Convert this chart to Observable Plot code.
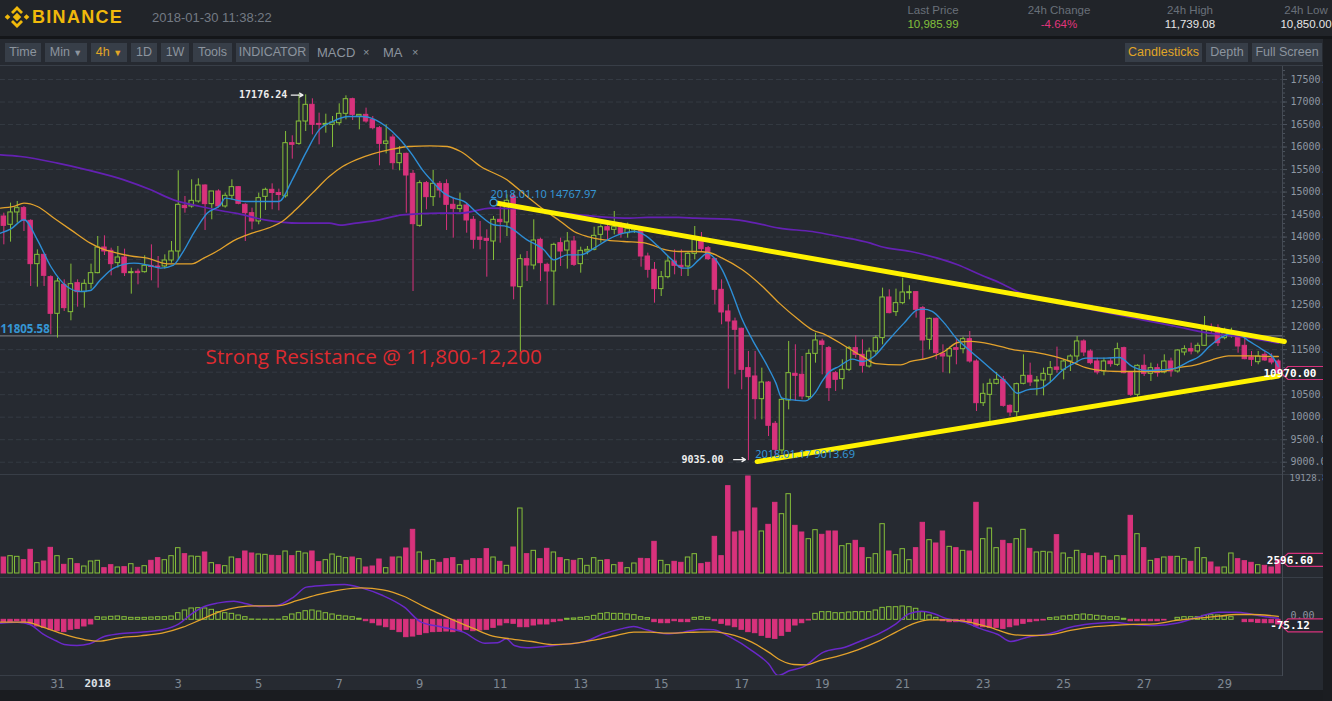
<!DOCTYPE html>
<html><head><meta charset="utf-8">
<script src="https://cdn.jsdelivr.net/npm/d3@7"></script>
<script src="https://cdn.jsdelivr.net/npm/@observablehq/plot@0.6"></script>
<style>
html,body{margin:0;padding:0;}
body{width:1332px;height:701px;overflow:hidden;background:#262a31;position:relative;font-family:"Liberation Sans",Arial,sans-serif;}
.abs{position:absolute}
.stat{top:3px;text-align:center;font-size:11.5px;line-height:14px}
.stat .l{color:#697079}
.btn{top:43px;height:19px;line-height:19px;background:#373e48;color:#8c949e;font-size:12.5px;text-align:center}
.plain{top:43px;height:19px;line-height:19px;color:#8c949e;font-size:13px}
.hline{left:0;width:1323px;height:1px;background:#383e47}
</style></head><body>
<div class="abs" style="left:0;top:0;width:1332px;height:36px;background:#212429"></div>
<div class="abs" style="left:0;top:36px;width:1332px;height:3px;background:#141619"></div>
<svg class="abs" style="left:4px;top:4px" width="26" height="26" viewBox="0 0 26 26">
 <g fill="#f0b90b">
  <rect x="10" y="10" width="6" height="6" transform="rotate(45 13 13)"/>
  <rect x="1.5" y="11" width="4" height="4" transform="rotate(45 3.5 13)"/>
  <rect x="20.5" y="11" width="4" height="4" transform="rotate(45 22.5 13)"/>
  <path d="M13 2 L19 8 L17 10 L13 6 L9 10 L7 8 Z"/>
  <path d="M13 24 L19 18 L17 16 L13 20 L9 16 L7 18 Z"/>
 </g></svg>
<div class="abs" style="left:32px;top:7px;font-weight:bold;font-size:18px;letter-spacing:1.3px;color:#f0b90b">BINANCE</div>
<div class="abs" style="left:152px;top:10px;font-size:13px;color:#737a84">2018-01-30 11:38:22</div>
<div class="abs stat" style="left:898px;width:70px"><div class="l">Last Price</div><div style="color:#84c13c">10,985.99</div></div>
<div class="abs stat" style="left:1019px;width:80px"><div class="l">24h Change</div><div style="color:#e0357d">-4.64%</div></div>
<div class="abs stat" style="left:1155px;width:70px"><div class="l">24h High</div><div style="color:#e6e6e6">11,739.08</div></div>
<div class="abs stat" style="left:1271px;width:70px"><div class="l">24h Low</div><div style="color:#e6e6e6">10,850.00</div></div>

<div class="abs btn" style="left:5px;width:36px">Time</div>
<div class="abs btn" style="left:45px;width:42px">Min <span style="font-size:9px">▼</span></div>
<div class="abs btn" style="left:91px;width:36px;color:#e0a526">4h <span style="font-size:9px">▼</span></div>
<div class="abs btn" style="left:131px;width:26px">1D</div>
<div class="abs btn" style="left:161px;width:28px">1W</div>
<div class="abs btn" style="left:193px;width:39px">Tools</div>
<div class="abs btn" style="left:236px;width:73px">INDICATOR</div>
<div class="abs plain" style="left:317px">MACD</div>
<div class="abs plain" style="left:363px;font-size:11px">×</div>
<div class="abs plain" style="left:383px">MA</div>
<div class="abs plain" style="left:412px;font-size:11px">×</div>
<div class="abs btn" style="left:1125px;width:77px;color:#e0a526">Candlesticks</div>
<div class="abs btn" style="left:1206px;width:42px">Depth</div>
<div class="abs btn" style="left:1252px;width:70px">Full Screen</div>

<div class="abs hline" style="top:65px"></div>
<div id="main" class="abs" style="left:0;top:66px"></div>
<div class="abs hline" style="top:474px"></div>
<div id="vol" class="abs" style="left:0;top:474px"></div>
<div class="abs hline" style="top:577px"></div>
<div id="macd" class="abs" style="left:0;top:577px"></div>
<div class="abs hline" style="top:675px;width:1282px"></div>
<div class="abs" style="left:0;top:690px;width:1332px;height:11px;background:#1a1c20"></div>
<div class="abs" style="left:1323px;top:39px;width:9px;height:662px;background:#1b1d21"></div>

<script>
// ---- 4h candles, 2017-12-29 16:00 to 2018-01-30 08:00 (index 0..190) ----
const open = [
14457,14273,14547,14643,14361,13399,13606,13110,
12296,12940,12333,12977,12777,12962,13199,13769,13695,13421,
13547,13199,13230,13221,13360,13345,13347,13480,13680,14695,
14680,14791,15146,14732,15013,14680,14917,15109,14717,14531,
14347,14894,15050,14980,14906,16086,16071,16567,16938,16515,
16493,16493,16530,16738,17063,16678,16715,16604,16419,16071,
16212,15642,15849,15405,14250,15198,14887,15183,15176,14717,
14621,14702,14384,13991,13961,13902,14384,14324,14902,12888,
13510,13369,13939,13384,13236,13865,13702,13902,13399,13680,
13717,14050,14220,14161,14198,14087,14150,14161,13569,13273,
12844,13110,13458,13362,13347,13628,13902,13754,13510,12829,
12348,12126,11963,11089,10904,10400,10770,9853,9260,10370,
10963,10941,10445,11407,11682,11533,10978,10845,11052,11533,
11385,11126,11459,11756,12659,12333,12533,12755,12777,12422,
11718,12185,11407,11348,11533,11511,11733,11237,10311,10496,
10741,10830,10252,10111,10741,10919,10793,10815,10941,11104,
11052,11237,11348,11682,11459,11237,11015,11237,11163,11533,
10993,10497,11141,10963,11089,10993,11237,11015,11437,11511,
11459,11585,11977,11977,11755,11830,11830,11585,11326,11222,
11385,11289,11237];
const high = [
14531,14754,14791,14680,14384,13717,13620,13140,
13088,13051,13399,13051,13051,13399,14013,14028,13754,13791,
13732,13310,13288,13584,13828,13569,13606,13902,15472,14902,
15272,15294,15161,15013,15050,14976,15272,15120,14740,14643,
14976,15087,15183,15065,16345,16250,17176.24,17160,17071,16753,
16730,16678,16960,17137,17085,16720,16864,16678,16456,16493,
16271,16012,15864,15479,15250,15235,15479,15235,15272,14865,
14976,14754,14457,14347,14161,14457,14680,14939,14976,13606,
13680,14384,13976,13421,13865,13976,14102,14013,13776,13791,
14220,14273,14310,14569,14325,14310,14250,14200,13643,13436,
13236,13569,13717,13717,13680,14235,14102,13791,13532,13051,
12496,12200,11978,11460,11460,11089,10793,9904,10422,11682,
11608,11348,11496,11866,11733,11571,11015,11274,11571,11807,
11718,11533,11807,12866,12829,12844,13088,12918,12792,12459,
12200,12200,11607,11556,11733,11778,11903,11274,10741,10845,
10993,10904,10274,10756,11385,11200,10904,11089,11237,11556,
11274,11385,11792,11718,11496,11311,11311,11311,11644,11556,
11015,11163,11385,11200,11178,11385,11311,11496,11585,11644,
11644,12237,12070,12052,11977,11977,11903,11755,11459,11459,
11459,11407,11274];
const low = [
13828,13888,14310,14124,12903,12888,12903,11830,
11756,12348,12141,12444,12422,12844,13184,13591,13140,13310,
13125,12733,12940,13199,13029,12866,13288,13421,13495,14531,
14643,14754,14147,14384,14643,14643,14828,14717,13902,14161,
14273,14591,14606,14583,14865,15731,16040,16345,16271,16049,
16308,15990,16471,16604,16589,16382,16530,16382,15583,15849,
15494,15472,14531,12792,14220,14606,14680,14865,14147,13976,
14547,14087,13732,13717,13110,13480,13865,14013,12607,11385,
13014,13273,13014,12496,12474,13347,13288,13347,13199,13606,
13695,13865,13939,14050,13976,13976,14080,13332,13088,12533,
12681,13073,13162,13125,13125,13495,13680,13480,12496,12052,
10623,10941,10608,9035,9941,9941,9571,9165,9165,10163,
10348,10385,10385,11200,10941,10348,10571,10608,11015,11311,
10978,11089,11385,11607,12296,12237,12496,12607,12200,11289,
11496,11274,10985,10963,11163,11407,11200,10126,10237,9904,
10719,10222,10015,10000,10719,10682,10474,10474,10756,10978,
10830,11015,11200,11348,11163,10941,10919,11111,11126,10963,
10459,10445,10904,10793,10889,10963,10889,10978,11363,11385,
11407,11570,11860,11570,11718,11755,11422,11274,11126,11163,
11237,11163,10941];
const close = [
14250,14547,14643,14361,13399,13606,13140,12296,
13014,12422,12955,12777,12962,13199,13769,13680,13399,13547,
13199,13221,13200,13362,13335,13330,13480,13680,14717,14643,
14806,15146,14732,15013,14680,14917,15109,14739,14531,14347,
14865,15050,14980,14935,16086,16050,16567,16938,16493,16493,
16515,16545,16738,17063,16715,16715,16567,16419,16071,16123,
15642,15849,15368,14287,15198,14887,15183,15035,14717,14628,
14695,14369,13939,13939,13917,14384,14332,14806,12903,13510,
13369,13924,13421,13236,13828,13680,13902,13384,13695,13717,
14028,14220,14147,14220,14073,14176,14180,13569,13273,12844,
13110,13458,13362,13325,13628,13939,13732,13510,12829,12326,
12126,11941,11052,10889,10400,10770,9809,9275,10385,10978,
10919,10459,11407,11704,11607,10645,10830,11052,11533,11385,
11141,11459,11755,12659,12311,12533,12770,12777,12385,11704,
12185,11422,11348,11511,11496,11733,11237,10311,10519,10741,
10830,10252,10104,10734,10919,10771,10815,10963,11089,11052,
11237,11348,11682,11437,11200,10993,11237,11178,11511,10978,
10497,11141,10963,11089,10978,11237,11015,11481,11511,11459,
11585,11977,11940,11644,11866,11866,11570,11289,11274,11348,
11260,11215,10970];
const volume = [
3155,3418,3287,2629,4667,2038,2366,5061,
3418,1709,2826,1840,1380,2366,2498,1052,1643,1183,
1249,1840,1117,1446,2498,3024,2629,3418,4995,3812,
3352,3287,4141,2038,1643,1446,3155,2826,4338,3944,
3747,3681,3484,3418,4338,3418,4272,3944,4338,2235,
2629,3747,3287,3024,3155,2826,1183,1380,2761,1052,
3155,3155,4930,8611,4141,2498,2629,2103,2826,3024,
1643,2498,2826,2826,4798,3155,2300,1512,5127,12817,
3812,4470,2826,4864,4141,3024,2629,2498,2826,1512,
3024,2498,2629,1643,2103,1052,1972,2892,2826,6244,
2498,1643,2300,2103,3155,3812,1840,2103,7230,3418,
17221,8085,8282,19128.83,12817,8282,9597,13935,11700,15644,
9399,8085,6770,8545,7625,8282,8282,5390,5784,6442,
4995,3024,3812,9728,4338,3615,4798,2629,4995,9991,
6573,5916,8282,5258,4995,4470,4338,13935,6770,8874,
4995,6442,5784,6770,8611,4864,4141,4272,4141,7559,
3944,3024,4470,3812,3418,3944,3287,2498,3418,3418,
11371,7756,4995,2498,2826,3155,3287,3287,2826,2300,
4995,3024,2169,1183,1183,3944,2826,2432,2103,1643,
1512,1183,2596.6];
const macdHist = [
-29,-29,-17,-42,-58,-83,-100,-125,
-142,-154,-125,-113,-83,-58,33,29,38,42,
33,25,25,25,29,33,33,42,83,117,
142,146,142,125,96,83,75,54,33,4,
2,2,2,2,33,67,83,108,117,104,
83,67,50,42,33,13,-17,-42,-71,-92,
-125,-154,-217,-209,-188,-167,-154,-150,-146,-154,
-142,-125,-142,-133,-125,-100,-71,-42,-50,-92,
-92,-71,-58,-58,-29,-17,13,17,25,33,
50,75,83,75,75,67,58,33,21,-29,
-42,-42,-17,-29,-29,25,33,25,-17,-50,
-71,-92,-125,-154,-167,-200,-225,-238,-200,-150,
-71,-42,-8,75,96,96,83,83,92,96,
96,96,117,150,158,158,167,158,138,96,
54,25,-17,-29,-29,-29,-42,-83,-92,-100,
-100,-113,-92,-71,-50,-29,-17,-8,21,29,
42,50,58,67,58,50,42,33,33,13,
-17,-17,-17,-17,-17,-8,0,25,33,33,
33,50,58,54,42,33,0,-29,-29,-38,
-42,-42,-58];

// ---- moving averages (candle index, value) ----
const ma7Idx = [-0.5,1,3,5,7,9.4,11.4,12.9,14.4,16.4,19.4,21.4,23.4,25.3,26.6,28.3,30.3,32.3,33,36,41,43,45,47,49,51.4,53.4,55.4,57,58.9,60.9,62.4,63.9,65.6,67.1,68.6,70.6,73,75,78,80.5,82,84,86,88,90,92.4,94,95.5,97.5,99.6,101.1,102.1,103.6,104.9,105.6,107.1,108.6,110.1,111.6,113.6,115.1,116,117.6,119.5,121,122,123,124.5,126.5,128,129.7,131.7,134.2,136.2,137,138.4,140.2,142.2,143.6,145.6,147.6,149.6,151.1,152.6,154.6,156.1,157.6,159.6,161.3,164.3,166.3,168.2,170.2,172.7,174.7,176.7,178.2,179.7,181.7,183.7,185.7,187.7,189.1,190];
const ma7Val = [14087,14176,14384,13939,13347,12903,12792,12814,13051,13310,13421,13380,13310,13380,13643,14087,14531,14717,14865,14791,14791,15272,15864,16382,16567,16678,16678,16604,16456,16197,15827,15494,15235,14976,14865,14791,14531,14273,14235,13939,13717,13495,13606,13606,13754,13939,14087,14124,14050,13800,13495,13310,13310,13495,13643,13580,13273,12755,12163,11718,11200,10756,10422,10385,10363,10550,10800,11000,11126,11289,11237,11348,11682,12089,12385,12400,12348,12089,11718,11533,11274,11015,10756,10533,10607,10645,10793,11015,11200,11311,11311,11326,11126,11037,11052,11089,11237,11348,11570,11792,11866,11682,11496,11348,11126];
const ma25Idx = [-0.5,1.5,3,5,7.5,10,12.9,14.4,16.9,19.4,21.4,24.4,28,29.8,31.7,34.5,37,40,41.5,43.5,46,48.5,50.5,52.5,55,57.4,60.4,63.5,66.1,68.1,71.1,75,78,80.5,83,85,87,89.5,92.4,95.5,98.7,100.6,103.1,105.1,107.1,110.1,113.1,115.6,118.5,120.5,122.5,125.5,128,130,133.7,135.2,137.7,140.2,142.2,144.2,147.6,150.6,153.6,156.6,159.6,161.3,162.8,166.3,169.7,172.7,174.7,177.7,180.1,182.6,185.7,188.6,190];
const ma25Val = [14643,14680,14754,14680,14420,14161,13865,13754,13643,13569,13532,13406,13406,13532,13680,13939,14087,14235,14347,14606,14976,15346,15568,15716,15849,15938,16012,16027,16012,15901,15568,15272,14902,14606,14347,14124,14013,13939,13902,13872,13717,13680,13680,13658,13532,13273,12903,12533,12163,11941,11830,11570,11350,11190,11163,11237,11311,11459,11659,11682,11607,11496,11444,11348,11200,11100,11052,11015,11015,11015,11089,11163,11274,11363,11363,11348,11348];
const ma99Idx = [-0.5,2.5,8,12.4,17.9,21.9,25.3,29.3,33,34.5,38.9,44,48.5,50.2,52.5,56,59.4,65,68.1,72.6,78.5,83.5,88.5,93.4,96,100.6,103.1,108.1,112.1,115.6,120.5,124.5,129.2,130.7,135.2,139.2,142.2,145.6,148.6,151.6,155,159.8,164.8,169.7,174.7,179.7,184.9,190];
const ma99Val = [15827,15790,15642,15494,15272,15050,14827,14680,14569,14531,14384,14310,14310,14265,14310,14384,14494,14531,14531,14643,14606,14531,14457,14420,14440,14440,14420,14398,14310,14198,14124,14013,13865,13791,13680,13532,13384,13162,12977,12755,12607,12459,12311,12163,12015,11866,11778,11644];

// ---- MACD lines (candle index, value) ----
const difIdx = [-0.5,2,3.9,5.8,7.7,9,10.9,12.8,14.7,17.2,20.4,23.6,26.1,28,29.9,31.8,34.3,36.2,38.1,40.7,43.2,45.1,47.6,50.8,53.3,56.5,59.7,62.2,65.4,68.5,71.7,73.6,74.9,76.1,78,80.6,83.1,86.3,89.4,92,93.9,95.8,98.8,101.3,103.9,105.8,108.3,111.5,114,115.4,117.2,119.1,122.2,125.4,127.9,130.4,133,134.9,136.8,138.7,140.6,143.1,145.7,148.2,150.1,152.6,155.8,159,162.1,165.3,168.4,171.6,174.8,178,181.1,183.7,186.2,188.7,190];
const difVal = [-42,-29,-58,-175,-259,-309,-321,-300,-217,-175,-154,-125,-50,75,167,209,234,200,167,179,284,409,430,442,400,304,158,-29,-92,-154,-292,-288,-238,-321,-350,-334,-309,-279,-175,-113,-83,-125,-175,-154,-117,-125,-217,-384,-550,-696,-634,-592,-404,-342,-259,-175,-50,75,108,75,13,-29,-113,-183,-271,-217,-175,-92,-50,-29,-58,-71,-42,33,96,96,67,33,21];
const deaIdx = [-0.5,3.3,5.8,9,12.2,14.1,17.2,20.4,23.6,26.7,29.3,32.4,35,37.5,40.7,43.8,47,50.2,53.3,56.5,59.7,62.8,66.6,69.8,72.9,75.5,78.7,81.8,84.4,88.2,91.3,93.9,96.4,98.8,101.9,105.8,108.9,111.5,114,115.9,117.8,119.7,121.6,124.1,127.3,130.4,133,135.5,138,140.6,143.1,146.9,150.7,153.3,155.8,159,162.1,165.3,168.4,171.6,174.8,178.6,181.1,183.7,186.2,188.7,190];
const deaVal = [-29,-29,-92,-183,-250,-267,-225,-200,-167,-92,0,108,158,175,175,242,317,375,400,375,292,158,13,-100,-204,-238,-271,-309,-300,-250,-196,-154,-154,-167,-158,-150,-196,-279,-404,-509,-559,-563,-509,-459,-375,-267,-154,-50,0,0,-17,-92,-188,-196,-188,-133,-92,-71,-58,-50,-8,25,46,67,67,54,42];

// ---- drawings / labels ----
const resistanceLevel = 11805.58;
const trendTopIdx = [73.0, 190.9], trendTopVal = [14767.97, 11681];
const trendBotIdx = [112.3, 190.0], trendBotVal = [9013.69, 10915];
const trendTopLabel = "2018.01.10 14767.97", trendBotLabel = "2018.01.17 9013.69";
const noteText = "Strong Resistance @ 11,800-12,200";
const priceTicks = d3.range(9000, 17501, 500);
const minorPriceTicks = d3.range(8800, 17701, 100);
const dayTicks = [8,14,26,38,50,62,74,86,98,110,122,134,146,158,170,182];
const dayLabels = ["31","2018","3","5","7","9","11","13","15","17","19","21","23","25","27","29"];
const macdTagValue = -75.12;

const UP = "#86bf3a", DOWN = "#d8327c", BG = "#262a31";
const XD = [-0.497, 190.62];
const HW = 0.33;
const N = open.length;
const candles = d3.range(N).map(i => ({i, o: open[i], h: high[i], l: low[i], c: close[i], v: volume[i], m: macdHist[i]}));
const isUp = d => d.c >= d.o;
const pts = (xs, ys) => xs.map((x, j) => ({x, y: ys[j]}));
const mono = "DejaVu Sans Mono";
const hiI = d3.maxIndex(high), loI = d3.minIndex(low);

function scaleFn(plot, name) {
  const s = plot.scale(name);
  if (s.apply) return v => s.apply(v);
  const f = d3.scaleLinear(s.domain, s.range);
  return v => f(v);
}
function addTag(plot, value, label) {
  const y = scaleFn(plot, "y")(value);
  const g = d3.select(plot).append("g");
  const x0 = 1281, x1 = 1345, h = 6.5;
  g.append("path").attr("d", `M${x0},${y} L${x0+7},${y-h} L${x1},${y-h} L${x1},${y+h} L${x0+7},${y+h} Z`)
    .attr("fill", "#23262d").attr("stroke", DOWN).attr("stroke-width", 1.2);
  g.append("text").attr("x", x0 + 9).attr("y", y).attr("dy", "0.36em")
    .attr("fill", "#ffffff").attr("font-family", mono).attr("font-weight", "bold").attr("font-size", 11).text(label);
}

const baseStyle = {background: "transparent", overflow: "visible"};

// ---- price panel ----
const mainPlot = Plot.plot({
  width: 1332, height: 408, marginTop: 0, marginBottom: 0, marginLeft: 0, marginRight: 50,
  style: baseStyle,
  x: {domain: XD, axis: null},
  y: {domain: [8727, 17789], axis: null},
  marks: [
    Plot.gridY(priceTicks, {stroke: "#343a43", strokeOpacity: 1, strokeDasharray: "5,3"}),
    Plot.axisY(minorPriceTicks, {anchor: "right", tickSize: 2, tickFormat: () => "", stroke: "#4c535d"}),
    Plot.axisY(priceTicks, {anchor: "right", tickSize: 4, tickPadding: 4, tickFormat: d => d.toFixed(2), fontSize: 10, fontFamily: mono, fill: "#8e97a2", stroke: "#4c535d"}),
    Plot.ruleX([XD[1]], {stroke: "#444a53"}),
    Plot.ruleY([resistanceLevel], {stroke: "#85888d"}),
    Plot.ruleX(candles, {x: "i", y1: "l", y2: "h", stroke: d => isUp(d) ? UP : DOWN}),
    Plot.rect(candles, {x1: d => d.i - HW, x2: d => d.i + HW, y1: "o", y2: "c", fill: d => isUp(d) ? BG : DOWN, stroke: d => isUp(d) ? UP : DOWN}),
    Plot.line(pts(ma99Idx, ma99Val), {x: "x", y: "y", stroke: "#6421b2", strokeWidth: 1.7, curve: "monotone-x", clip: true}),
    Plot.line(pts(ma25Idx, ma25Val), {x: "x", y: "y", stroke: "#e3a22c", strokeWidth: 1.3, curve: "monotone-x", clip: true}),
    Plot.line(pts(ma7Idx, ma7Val), {x: "x", y: "y", stroke: "#2d8ed6", strokeWidth: 1.4, curve: "monotone-x", clip: true}),
    Plot.text([resistanceLevel], {x: XD[0], y: d => d, text: d => d.toFixed(2), textAnchor: "start", dy: -7, fill: "#3596d4", fontSize: 11.5, fontWeight: "bold"}),
    Plot.text([noteText], {x: 30.07, y: 11326, text: d => d, textAnchor: "start", fill: "#dd2a30", fontSize: 20.7, fontFamily: "Open Sans"}),
    // max / min markers
    Plot.text([hiI], {x: d => d - 1.75, y: d => high[d], text: d => high[d].toFixed(2), textAnchor: "end", dy: 1, fill: "#eeeeee", fontSize: 10, fontWeight: "bold", fontFamily: mono}),
    Plot.arrow([hiI], {x1: d => d - 1.15, x2: d => d + 0.6, y1: d => high[d], y2: d => high[d], stroke: "#f0f0f0", strokeWidth: 1.3, headLength: 7, dy: 1}),
    Plot.text([loI], {x: d => d - 3.7, y: d => low[d], text: d => low[d].toFixed(2), textAnchor: "end", dy: -1, fill: "#eeeeee", fontSize: 10, fontWeight: "bold", fontFamily: mono}),
    Plot.arrow([loI], {x1: d => d - 2.2, x2: d => d - 0.45, y1: d => low[d], y2: d => low[d], stroke: "#f0f0f0", strokeWidth: 1.3, headLength: 7, dy: -1}),
    // drawn trend lines
    Plot.line(pts(trendTopIdx, trendTopVal), {x: "x", y: "y", stroke: "#fff200", strokeWidth: 5, strokeLinecap: "round"}),
    Plot.line(pts(trendBotIdx, trendBotVal), {x: "x", y: "y", stroke: "#fff200", strokeWidth: 5, strokeLinecap: "round"}),
    Plot.dot([0], {x: trendTopIdx[0], y: trendTopVal[0], r: 3.5, stroke: "#3596d4", fill: "#1a1d22", strokeWidth: 1.3}),
    Plot.text([trendTopLabel], {x: trendTopIdx[0], y: trendTopVal[0], text: d => d, textAnchor: "start", dx: -3, dy: -8, fill: "#3596d4", fontSize: 11}),
    Plot.text([trendBotLabel], {x: trendBotIdx[0], y: trendBotVal[0], text: d => d, textAnchor: "start", dx: -2, dy: -7, fill: "#3596d4", fontSize: 11})
  ]
});
document.getElementById("main").appendChild(mainPlot);
addTag(mainPlot, close[N - 1], close[N - 1].toFixed(2));

// ---- volume panel ----
const volPlot = Plot.plot({
  width: 1332, height: 103, marginTop: 0, marginBottom: 0, marginLeft: 0, marginRight: 50,
  style: baseStyle,
  x: {domain: XD, axis: null},
  y: {domain: [0, d3.max(volume)], range: [99, 2], axis: null},
  marks: [
    Plot.rect(candles, {x1: d => d.i - HW, x2: d => d.i + HW, y1: 0, y2: "v", fill: d => isUp(d) ? BG : DOWN, stroke: d => isUp(d) ? UP : DOWN}),
    Plot.ruleX([XD[1]], {stroke: "#444a53"}),
    Plot.text([d3.max(volume)], {x: XD[1], y: d => d, text: d => d.toFixed(2), textAnchor: "start", dx: 7, dy: 2, fill: "#8e97a2", fontSize: 9, fontFamily: mono})
  ]
});
document.getElementById("vol").appendChild(volPlot);
addTag(volPlot, volume[N - 1], volume[N - 1].toFixed(2));

// ---- MACD panel ----
const macdPlot = Plot.plot({
  width: 1332, height: 124, marginTop: 0, marginBottom: 25, marginLeft: 0, marginRight: 50,
  style: baseStyle,
  x: {domain: XD, axis: null},
  y: {domain: [-709, 529.6], range: [99, 0], axis: null},
  marks: [
    Plot.rect(candles, {x1: d => d.i - HW, x2: d => d.i + HW, y1: 0, y2: "m", fill: d => d.m >= 0 ? BG : DOWN, stroke: d => d.m >= 0 ? UP : DOWN}),
    Plot.line(pts(difIdx, difVal), {x: "x", y: "y", stroke: "#6a28c8", strokeWidth: 1.5, curve: "monotone-x", clip: true}),
    Plot.line(pts(deaIdx, deaVal), {x: "x", y: "y", stroke: "#e3a22c", strokeWidth: 1.3, curve: "monotone-x", clip: true}),
    Plot.ruleX([XD[1]], {y1: -709, y2: 529.6, stroke: "#444a53"}),
    Plot.axisX(dayTicks.filter((t, j) => dayLabels[j] !== "2018"), {anchor: "bottom", tickSize: 0, tickPadding: 3, tickFormat: d => dayLabels[dayTicks.indexOf(d)], fontSize: 11.5, fontFamily: "DejaVu Sans", fill: "#7f8893"}),
    Plot.axisX(dayTicks.filter((t, j) => dayLabels[j] === "2018"), {anchor: "bottom", tickSize: 0, tickPadding: 3, tickFormat: d => dayLabels[dayTicks.indexOf(d)], fontSize: 11, fontWeight: "bold", fontFamily: mono, fill: "#dde1e6"}),
    Plot.text([0], {x: XD[1], y: d => d, text: d => d.toFixed(2), textAnchor: "start", dx: 8, dy: -4, fill: "#8e97a2", fontSize: 10, fontFamily: mono})
  ]
});
document.getElementById("macd").appendChild(macdPlot);
addTag(macdPlot, macdTagValue, macdTagValue.toFixed(2));
</script>
</body></html>
